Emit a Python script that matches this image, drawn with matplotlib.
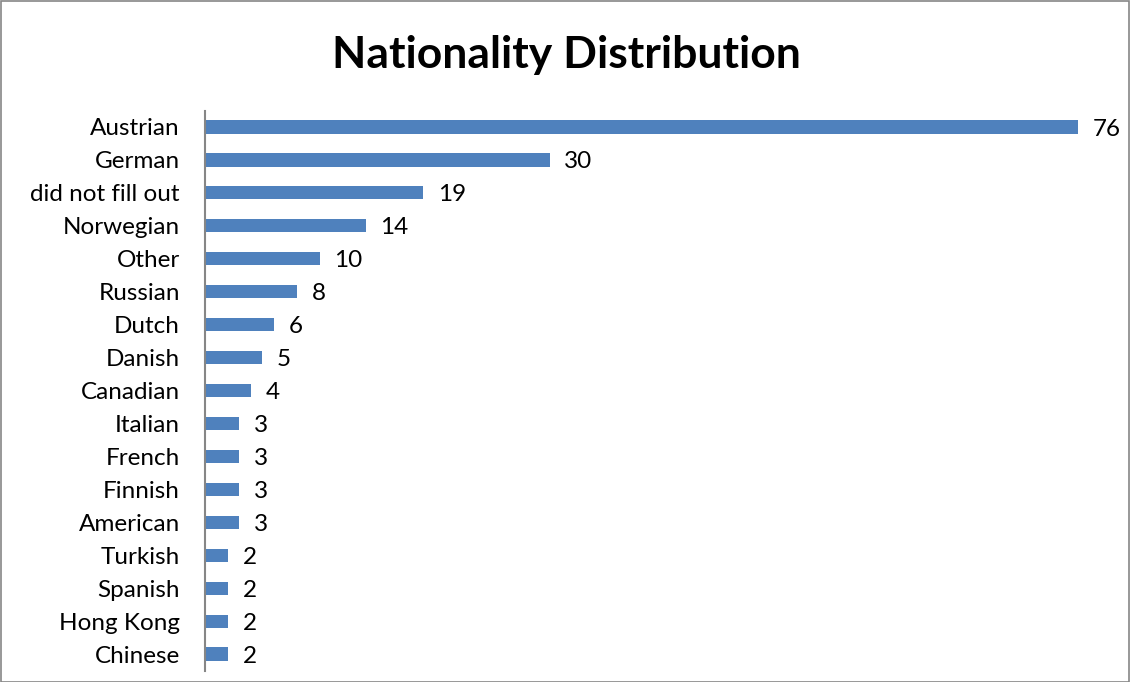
import matplotlib
matplotlib.use('Agg')
import matplotlib.pyplot as plt
from matplotlib.patches import Rectangle

# categories top to bottom, counts as printed next to each bar
nationalities = ["Austrian", "German", "did not fill out", "Norwegian", "Other",
                 "Russian", "Dutch", "Danish", "Canadian", "Italian", "French",
                 "Finnish", "American", "Turkish", "Spanish", "Hong Kong", "Chinese"]
counts = [76, 30, 19, 14, 10, 8, 6, 5, 4, 3, 3, 3, 3, 2, 2, 2, 2]

plt.rcParams['font.family'] = ['Lato', 'DejaVu Sans']

W, H = 1130, 682
fig = plt.figure(figsize=(W / 100, H / 100), dpi=100)

# plot area in pixel terms
left, right, top, bottom = 205, 1078, 110.5, 670.5
ax = fig.add_axes([left / W, (H - bottom) / H, (right - left) / W, (bottom - top) / H])

ypos = list(range(len(nationalities)))
ax.barh(ypos, counts, height=0.4, color='#4F81BD')
ax.set_ylim(len(nationalities) - 0.5, -0.5)
ax.set_xlim(0, 76)

ax.set_yticks(ypos)
ax.set_yticklabels(nationalities, fontsize=17.5)
ax.tick_params(axis='y', length=0, pad=18)
ax.set_xticks([])

for y, c in zip(ypos, counts):
    ax.annotate(str(c), (c, y), xytext=(10.5, -1.5), textcoords='offset points',
                va='center', ha='left', fontsize=17.5, annotation_clip=False)

for s in ['top', 'right', 'bottom']:
    ax.spines[s].set_visible(False)
ax.spines['left'].set_color('#868686')
ax.spines['left'].set_linewidth(1.5)

fig.text(566 / W, 1 - 55 / H, "Nationality Distribution", ha='center', va='center',
         fontsize=32, fontweight='bold')

fig.patches.append(Rectangle((0.5 / W, 0.5 / H), 1 - 1.5 / W, 1 - 1.5 / H,
                             transform=fig.transFigure, fill=False,
                             edgecolor='#868686', linewidth=1.2))

fig.savefig('out.png', dpi=100)
